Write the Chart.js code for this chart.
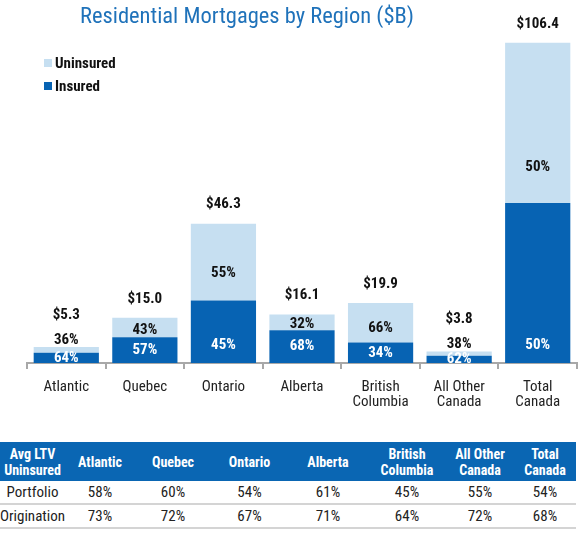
<!DOCTYPE html>
<html>
<head>
<meta charset="utf-8">
<script src="https://cdn.jsdelivr.net/npm/chart.js@4/dist/chart.umd.min.js"></script>
<style>
  body { margin: 0; background: #fff; font-family: "Roboto Condensed", sans-serif; }
  #wrap { position: relative; width: 584px; height: 534px; overflow: hidden; }
  #title { position: absolute; left: 0; top: 0; width: 494px; text-align: center;
    font-size: 22.5px; color: #1f72ba; line-height: 30px; }
  #chart-box { position: absolute; left: 0; top: 0; width: 584px; height: 430px; }
  #legend { position: absolute; left: 44px; top: 51px; }
  .leg-item { display: flex; align-items: center; height: 23px; font-weight: bold; font-size: 15px; color: #111; }
  .leg-sw { width: 8px; height: 8px; margin-right: 3px; }
  #ltv { position: absolute; left: 0; top: 442px; width: 576px; border-collapse: collapse; table-layout: fixed; }
  #ltv th { background: #0a66b3; color: #fff; font-weight: bold; font-size: 14px; line-height: 16px;
    height: 39px; padding: 0; text-align: center; }
  #ltv td { font-size: 15px; color: #222; height: 22px; padding: 0; text-align: center;
    border-bottom: 2px solid #d4d4d4; }
</style>
</head>
<body>
<div id="wrap">
  <div id="chart-box"><canvas id="chart"></canvas></div>
  <div id="title">Residential Mortgages by Region ($B)</div>
  <div id="legend"></div>
  <table id="ltv"></table>
</div>
<script>
/* ── Data ────────────────────────────────────────────────── */

const regions = ['Atlantic', 'Quebec', 'Ontario', 'Alberta', ['British', 'Columbia'], ['All Other', 'Canada'], ['Total', 'Canada']];
const totals = [5.3, 15.0, 46.3, 16.1, 19.9, 3.8, 106.4];
const insured = [3.4, 8.55, 20.8, 10.9, 6.8, 2.4, 53.2];
const uninsured = [1.9, 6.45, 25.5, 5.2, 13.1, 1.4, 53.2];
const insuredPct = [64, 57, 45, 68, 34, 62, 50];
const uninsuredPct = [36, 43, 55, 32, 66, 38, 50];

const ltvHeader = ['Avg LTV<br>Uninsured', 'Atlantic', 'Quebec', 'Ontario', 'Alberta', 'British<br>Columbia', 'All Other<br>Canada', 'Total<br>Canada'];
const portfolioLtv = [58, 60, 54, 61, 45, 55, 54];
const originationLtv = [73, 72, 67, 71, 64, 72, 68];

/* ── Styles ──────────────────────────────────────────────── */

const DARK = '#0763b3';
const LIGHT = '#c6dff1';
const LABEL_FONT = 'bold 15px "Roboto Condensed"';

/* ── Bar labels plugin ───────────────────────────────────── */

const barLabels = {
  id: 'barLabels',
  afterDatasetsDraw(chart) {
    const ctx = chart.ctx;
    const area = chart.chartArea;
    const insMeta = chart.getDatasetMeta(0);
    const unMeta = chart.getDatasetMeta(1);
    ctx.save();
    ctx.font = LABEL_FONT;
    ctx.textAlign = 'center';
    ctx.textBaseline = 'middle';

    totals.forEach((total, i) => {
      const ins = insMeta.data[i];
      const un = unMeta.data[i];

      // insured % (white, clipped to plot)
      ctx.save();
      ctx.beginPath();
      ctx.rect(area.left, area.top, area.right - area.left, area.bottom - area.top);
      ctx.clip();
      ctx.fillStyle = '#fff';
      const insMid = (ins.y + ins.base) / 2;
      ctx.fillText(insuredPct[i] + '%', ins.x, Math.max(insMid, ins.base - 18));
      ctx.restore();

      // uninsured % and total
      const h = un.base - un.y;
      ctx.fillStyle = '#111';
      let totalY;
      if (h >= 10) {
        ctx.fillText(uninsuredPct[i] + '%', un.x, Math.max(un.y + 0.65 * h, un.base - 36));
        totalY = un.y - 19;
      } else {
        ctx.fillText(uninsuredPct[i] + '%', un.x, un.y - 7);
        totalY = un.y - 32;
      }
      ctx.fillText('$' + total.toFixed(1), un.x, totalY);
    });
    ctx.restore();
  }
};

/* ── Chart ───────────────────────────────────────────────── */

const datasets = [
  { label: 'Insured', data: insured, backgroundColor: DARK },
  { label: 'Uninsured', data: uninsured, backgroundColor: LIGHT },
];

// eslint-disable-next-line no-undef
new Chart(document.getElementById('chart'), {
  type: 'bar',
  data: { labels: regions, datasets },
  plugins: [barLabels],
  options: {
    responsive: true,
    maintainAspectRatio: false,
    animation: false,
    datasets: { bar: { categoryPercentage: 1, barPercentage: 0.83 } },
    layout: { padding: { left: 27, right: 7, top: 32, bottom: 15 } },
    plugins: { legend: { display: false }, tooltip: { enabled: false } },
    scales: {
      x: {
        stacked: true,
        afterFit(axis) { axis.height = 52; },
        border: { display: true, color: '#a8a8a8', width: 2 },
        grid: { drawOnChartArea: false, drawTicks: true, tickLength: 6, color: '#a8a8a8', lineWidth: 2 },
        ticks: { color: '#222', font: { family: 'Roboto Condensed', size: 15, lineHeight: 1.05 }, padding: 10, maxRotation: 0 },
      },
      y: { stacked: true, display: false, min: 0, max: 110 },
    },
  },
});

/* ── Legend ──────────────────────────────────────────────── */

document.getElementById('legend').innerHTML = datasets.slice().reverse().map(d =>
  `<div class="leg-item"><span class="leg-sw" style="background:${d.backgroundColor}"></span>${d.label}</div>`
).join('');

/* ── LTV table ───────────────────────────────────────────── */

const colWidths = [65, 70, 76, 77, 80, 78, 68, 62];
const row = (name, vals) => `<tr><td>${name}</td>${vals.map(v => `<td>${v}%</td>`).join('')}</tr>`;
document.getElementById('ltv').innerHTML =
  `<colgroup>${colWidths.map(w => `<col style="width:${w}px">`).join('')}</colgroup>` +
  `<tr>${ltvHeader.map(h => `<th>${h}</th>`).join('')}</tr>` +
  row('Portfolio', portfolioLtv) +
  row('Origination', originationLtv);
</script>
</body>
</html>
